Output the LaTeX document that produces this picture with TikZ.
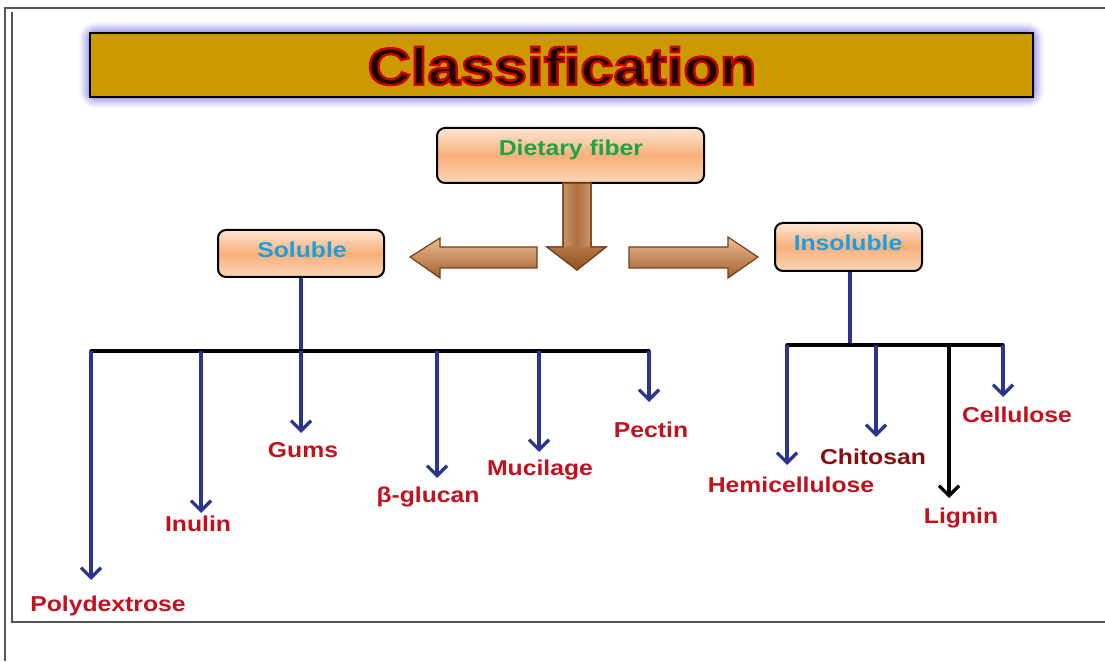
\documentclass[tikz,border=0pt]{standalone}
\usepackage{fontspec}
\setmainfont{Liberation Sans}[FakeStretch=1.15]
\usetikzlibrary{arrows.meta}
\definecolor{gold}{HTML}{CC9900}
\definecolor{lblred}{HTML}{C2101C}
\definecolor{chired}{HTML}{8C0A0C}
\definecolor{arrblue}{HTML}{2B3590}
\definecolor{solblue}{HTML}{1C9FDF}
\definecolor{dfgreen}{HTML}{1EA346}
\definecolor{peachL}{HTML}{FDE6D2}
\definecolor{peachM}{HTML}{F8B07A}
\definecolor{tanL}{HTML}{EDBC92}
\definecolor{brownD}{HTML}{93501F}
\definecolor{frameg}{HTML}{555555}
\definecolor{glow}{HTML}{7C7CF0}
\definecolor{titletx}{HTML}{1A0202}
\newcommand{\redoutline}[1]{\special{pdf:literal direct 2 Tr 0.78 0 0 RG 2.4 w}#1\special{pdf:literal direct 0 Tr 0 0 0 RG 0.4 w}}
\tikzset{
  framel/.style={draw=frameg, line width=1.6pt},
  pbox/.style={draw=black, line width=2pt, rounded corners=8pt,
    top color=peachL, bottom color=peachL!70!peachM, middle color=peachM},
  boxtext/.style={font=\bfseries\fontsize{21.5}{24}\selectfont, inner sep=0pt},
  lbl/.style={font=\bfseries\fontsize{21.5}{24}\selectfont, text=lblred, inner sep=0pt},
  barline/.style={draw=black, line width=3.4pt, line cap=round, line join=round},
  stem/.style={draw=arrblue, line width=3.2pt},
  branch/.style={draw=arrblue, line width=3.2pt, -{Straight Barb[length=10pt,width=20pt]}},
  blockarrow/.style={draw=brownD!80!black, line width=1.2pt, line join=miter},
}
\begin{document}
\begin{tikzpicture}[x=1pt,y=1pt]
\useasboundingbox (0,0) rectangle (1105,661);
\fill[white] (0,0) rectangle (1105,661);
% frame
\draw[framel] (5,0) -- (5,653) -- (1105,653);
\draw[framel] (12,649) -- (12,39) -- (1105,39);

% title box with glow
\foreach \w/\o in {22/0.06,19/0.08,16/0.10,13/0.12,10/0.15,7/0.2,4/0.3}
  \draw[glow, opacity=\o, line width=\w pt, rounded corners=6pt] (90,564) rectangle (1033,628);
\node[draw=black, line width=2.2pt, fill=gold, minimum width=943pt, minimum height=64pt, inner sep=0pt] (title) at (561.5,596) {};

% main boxes
\node[pbox, minimum width=267pt, minimum height=55pt] (df) at (570.5,505.5) {};
\node[boxtext, text=dfgreen] (dft) at (571,511) {Dietary fiber};
\node[pbox, minimum width=166pt, minimum height=47pt] (sol) at (301,407.5) {};
\node[boxtext, text=solblue] (solt) at (302,411) {Soluble};
\node[pbox, minimum width=147pt, minimum height=48pt] (ins) at (848.5,414) {};
\node[boxtext, text=solblue] (inst) at (848,418) {Insoluble};

% block arrows
\path[blockarrow, left color=tanL, right color=tanL, middle color=brownD!70!tanL]
  (563,478) -- (591,478) -- (591,414) -- (606,414) -- (577,391) -- (547,414) -- (563,414) -- cycle;
\shade[top color=brownD!65!tanL, bottom color=brownD] (547,414) -- (606,414) -- (577,391) -- cycle;
\draw[blockarrow] (563,478) -- (591,478) -- (591,414) -- (606,414) -- (577,391) -- (547,414) -- (563,414) -- cycle;
\path[blockarrow, top color=tanL, bottom color=brownD!85!tanL]
  (537,414) -- (440,414) -- (440,423) -- (410,404) -- (440,383) -- (440,393) -- (537,393) -- cycle;
\path[blockarrow, top color=tanL, bottom color=brownD!85!tanL]
  (629,414) -- (728,414) -- (728,424) -- (758,404) -- (728,383) -- (728,393) -- (629,393) -- cycle;

% soluble tree
\coordinate (sbar) at (301,310);
\coordinate (sL) at (91,310);
\coordinate (sR) at (649,310);
\draw[stem] (sol.south) -- (sbar);
\draw[barline] (sL) -- (sR);
\node[lbl] (poly) at (108,55) {Polydextrose};
\node[lbl] (inulin) at (198,137) {Inulin};
\node[lbl] (gums) at (303,211) {Gums};
\node[lbl] (bglu) at (428,164) {β-glucan};
\node[lbl] (muc) at (540,191) {Mucilage};
\node[lbl] (pec) at (651,231) {Pectin};
\coordinate (tpoly) at (91,81);
\coordinate (tinu) at (201,148);
\coordinate (tgum) at (301,228);
\coordinate (tbg) at (437,183);
\coordinate (tmuc) at (539,209);
\coordinate (tpec) at (649,259);
\draw[branch] (sL) -- (tpoly);
\draw[branch] (201,310) -- (tinu);
\draw[branch] (sbar) -- (tgum);
\draw[branch] (437,310) -- (tbg);
\draw[branch] (539,310) -- (tmuc);
\draw[branch] (sR) -- (tpec);

% insoluble tree
\coordinate (ibar) at (850,316);
\coordinate (iL) at (787,316);
\coordinate (iR) at (1003,316);
\draw[stem] (ins.south -| ibar) -- (ibar);
\draw[barline] (iL) -- (iR);
\node[lbl] (hemi) at (791,176) {Hemicellulose};
\node[lbl, text=chired] (chit) at (873,204) {Chitosan};
\node[lbl] (lig) at (961,143) {Lignin};
\node[lbl] (cell) at (1017,246) {Cellulose};
\coordinate (themi) at (787,196);
\coordinate (tchit) at (876,224);
\coordinate (tlig) at (949,163);
\coordinate (tcell) at (1003,264);
\draw[branch] (iL) -- (themi);
\draw[branch] (876,316) -- (tchit);
\draw[branch, draw=black] (949,316) -- (tlig);
\draw[branch] (iR) -- (tcell);

% title text (red outline via text render mode)
\node[font=\bfseries\fontsize{52}{56}\selectfont, text=titletx, inner sep=0pt] (titletext) at (562,595) {\redoutline{Classification}};
\end{tikzpicture}
\end{document}
